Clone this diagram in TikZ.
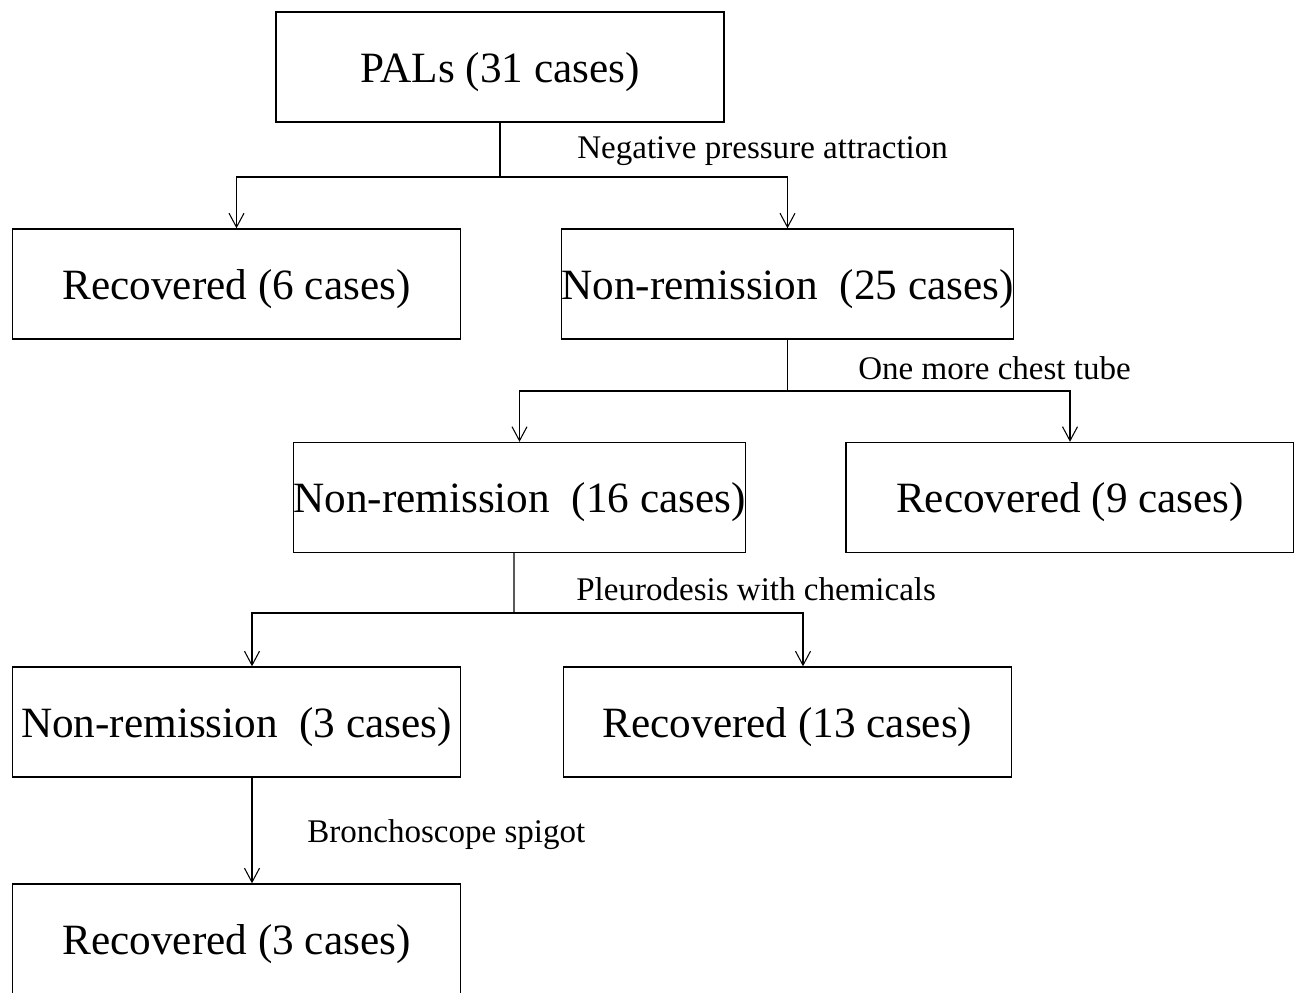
\documentclass[tikz,border=0pt]{standalone}
\usepackage{fontspec}
\setmainfont{Liberation Serif}
\usetikzlibrary{arrows.meta}

\begin{document}
\begin{tikzpicture}[x=0.02cm,y=-0.02cm,
  box/.style={draw, line width=0.8pt, minimum width=8.96cm, minimum height=2.2cm, inner sep=0pt, text depth=0pt, font=\fontsize{24.6}{30}\selectfont},
  lab/.style={anchor=west, inner sep=0pt, font=\fontsize{18.8}{23}\selectfont},
  arr/.style={line width=0.6pt, -{Straight Barb[length=0.28cm,width=0.3cm]}},
  ln/.style={line width=0.6pt}]
\clip (0,0) rectangle (1294,992);
\useasboundingbox (0,0) rectangle (1294,992);
\node[box] (pals) at (500,67) {PALs (31 cases)};
\node[box] (rec6) at (236.5,284) {Recovered (6 cases)};
\node[box] (nr25) at (787.5,284) {Non-remission\ \ (25 cases)};
\node[box] (nr16) at (519.5,497.5) {Non-remission\ \ (16 cases)};
\node[box] (rec9) at (1070,497.5) {Recovered (9 cases)};
\node[box] (nr3) at (236.5,722) {Non-remission\ \ (3 cases)};
\node[box] (rec13) at (787.5,722) {Recovered (13 cases)};
\node[box] (rec3) at (236.5,939) {Recovered (3 cases)};
% splitting points
\coordinate (s1) at (500,177);
\coordinate (s2) at (787.5,391);
\coordinate (s3) at (514,613);
\draw[ln] (pals.south) -- (s1);
\draw[arr] (s1) -| (rec6.north);
\draw[arr] (s1) -| (nr25.north);
\draw[ln] (nr25.south) -- (s2);
\draw[arr] (s2) -| (nr16.north);
\draw[arr] (s2) -| (rec9.north);
\draw[ln] ([xshift=-0.11cm]nr16.south) -- (s3);
\draw[arr] (s3) -| ([xshift=0.31cm]nr3.north);
\draw[arr] (s3) -| ([xshift=0.31cm]rec13.north);
\draw[arr] ([xshift=0.31cm]nr3.south) -- ([xshift=0.31cm]rec3.north);
% labels
\node[lab] (l1) at (577,151) {Negative pressure attraction};
\node[lab] (l2) at (858,368) {One more chest tube};
\node[lab] (l3) at (576,589) {Pleurodesis with chemicals};
\node[lab] (l4) at (307,835) {Bronchoscope spigot};
\end{tikzpicture}
\end{document}
